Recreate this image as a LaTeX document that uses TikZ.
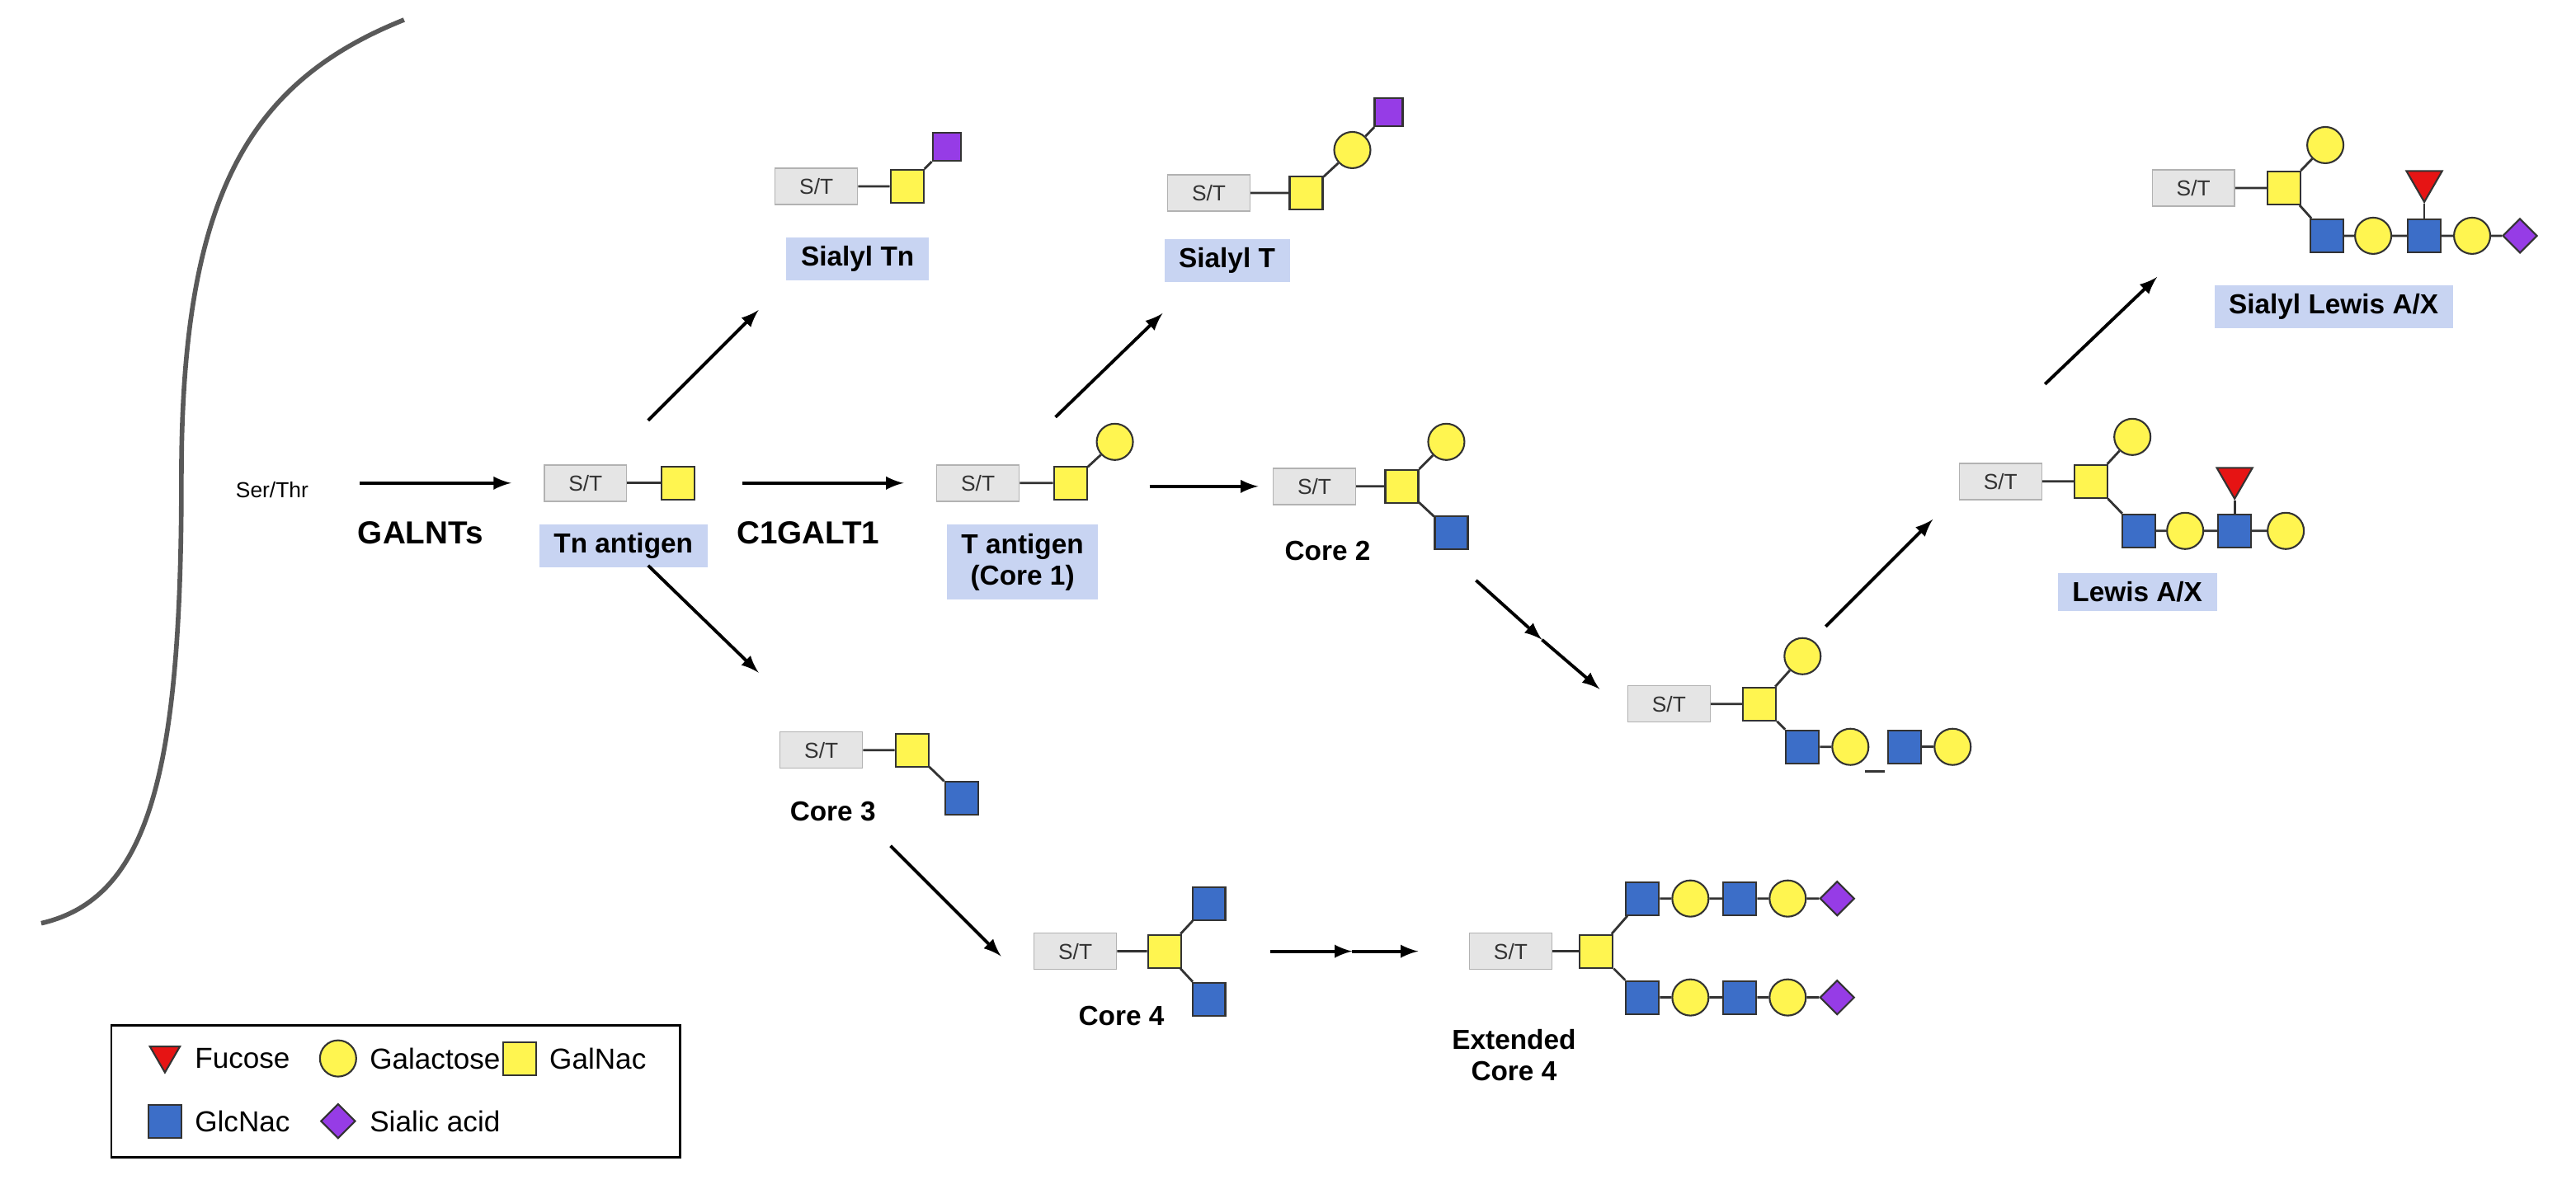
\documentclass[tikz,border=0pt]{standalone}
\usepackage{fontspec}
\setmainfont{Liberation Sans}
\usetikzlibrary{positioning}
\usetikzlibrary{shapes.geometric, arrows}

\definecolor{galnac}{RGB}{255,245,80}
\definecolor{glcnac}{RGB}{60,110,200}
\definecolor{sialic}{RGB}{150,60,230}
\definecolor{fucose}{RGB}{230,20,20}
\definecolor{hilite}{RGB}{200,212,242}

\begin{document}
\begin{tikzpicture}[x=0.02cm, y=-0.02cm, >=latex]
    \tikzstyle{st} = [rectangle, draw=gray!60, fill=gray!20, minimum width=1cm,
    minimum height=0.44cm, inner sep=0pt, font=\fontsize{7.5}{8}\selectfont, text=black!80]
    \tikzstyle{gal} = [circle, draw=black!80, fill=galnac, minimum size=0.44cm, inner sep=0pt, line width=0.6pt]
    \tikzstyle{gnac} = [rectangle, draw=black!80, fill=galnac, minimum size=0.4cm, inner sep=0pt, line width=0.6pt]
    \tikzstyle{glc} = [rectangle, draw=black!80, fill=glcnac, minimum size=0.4cm, inner sep=0pt, line width=0.6pt]
    \tikzstyle{sia} = [diamond, draw=black!80, fill=sialic, minimum size=0.42cm, inner sep=0pt, line width=0.6pt]
    \tikzstyle{siasq} = [rectangle, draw=black!80, fill=sialic, minimum size=0.34cm, inner sep=0pt, line width=0.6pt]
    \tikzstyle{fuc} = [regular polygon, regular polygon sides=3, shape border rotate=180, draw=black!80,
    fill=fucose, minimum size=0.5cm, inner sep=0pt, line width=0.6pt]
    \tikzstyle{link} = [draw, black!80, line width=0.8pt]
    \tikzstyle{line} = [draw, ->, line width=1.1pt]
    \tikzstyle{glylabel} = [fill=hilite, inner xsep=5pt, inner ysep=3pt, font=\bfseries\fontsize{9.5}{11}\selectfont, align=center]
    \tikzstyle{plain} = [font=\bfseries\fontsize{9.5}{11}\selectfont, align=center]
    \tikzstyle{enzyme} = [font=\bfseries\fontsize{11}{12}\selectfont]
    \useasboundingbox (0,0) rectangle (1562,724);
    % membrane
    \draw[gray!70!black, line width=1.6pt] (245,12) .. controls (150,50) and (110,120) .. (110,290)
    .. controls (110,470) and (90,545) .. (25,560);
    \node[font=\fontsize{7.5}{8}\selectfont] (serthr) at (165,297) {Ser/Thr};
    \coordinate (sa) at (218,293);
    \node[enzyme] (galnts) at (255,323) {GALNTs};
    % Tn antigen
    \node[st] (tnst) at (355,293) {S/T};
    \node[gnac] (tn1) at (411,293) {};
    \node[glylabel] (tnlab) at (378,331) {Tn antigen};
    \node[enzyme] (c1galt) at (490,323) {C1GALT1};
    % Sialyl Tn
    \node[st] (stnst) at (495,113) {S/T};
    \node[gnac] (stn1) at (550,113) {};
    \node[siasq] (stn2) at (574,89) {};
    \node[glylabel] (stnlab) at (520,157) {Sialyl Tn};
    % Core 3
    \node[st] (c3st) at (498,455) {S/T};
    \node[gnac] (c31) at (553,455) {};
    \node[glc] (c32) at (583,484) {};
    \node[plain] (c3lab) at (505,492) {Core 3};
    % T antigen
    \node[st] (tst) at (593,293) {S/T};
    \node[gnac] (t1) at (649,293) {};
    \node[gal] (t2) at (676,268) {};
    \node[glylabel] (tlab) at (620,341) {T antigen\\(Core 1)};
    % Sialyl T
    \node[st] (sst) at (733,117) {S/T};
    \node[gnac] (s1) at (792,117) {};
    \node[gal] (s2) at (820,91) {};
    \node[siasq] (s3) at (842,68) {};
    \node[glylabel] (slab) at (744,158) {Sialyl T};
    % Core 2
    \node[st] (c2st) at (797,295) {S/T};
    \node[gnac] (c21) at (850,295) {};
    \node[gal] (c22) at (877,268) {};
    \node[glc] (c23) at (880,323) {};
    \node[plain] (c2lab) at (805,334) {Core 2};
    % extended core 2
    \node[st] (e2st) at (1012,427) {S/T};
    \node[gnac] (e21) at (1067,427) {};
    \node[gal] (e22) at (1093,398) {};
    \node[glc] (e23) at (1093,453) {};
    \node[gal] (e24) at (1122,453) {};
    \node[glc] (e25) at (1155,453) {};
    \node[gal] (e26) at (1184,453) {};
    \node[inner sep=0pt, minimum width=0.24cm, minimum height=0.7pt, fill=black!80] (e2gap) at (1137,468) {};
    % Lewis A/X
    \node[st] (lst) at (1213,292) {S/T};
    \node[gnac] (l1) at (1268,292) {};
    \node[gal] (l2) at (1293,265) {};
    \node[glc] (l3) at (1297,322) {};
    \node[gal] (l4) at (1325,322) {};
    \node[glc] (l5) at (1355,322) {};
    \node[fuc] (l6) at (1355,290) {};
    \node[gal] (l7) at (1386,322) {};
    \node[glylabel] (llab) at (1296,359) {Lewis A/X};
    % Sialyl Lewis A/X
    \node[st] (slst) at (1330,114) {S/T};
    \node[gnac] (sl1) at (1385,114) {};
    \node[gal] (sl2) at (1410,88) {};
    \node[glc] (sl3) at (1411,143) {};
    \node[gal] (sl4) at (1439,143) {};
    \node[glc] (sl5) at (1470,143) {};
    \node[fuc] (sl6) at (1470,110) {};
    \node[gal] (sl7) at (1499,143) {};
    \node[sia] (sl8) at (1528,143) {};
    \node[glylabel] (sllab) at (1415,186) {Sialyl Lewis A/X};
    % Core 4
    \node[st] (c4st) at (652,577) {S/T};
    \node[gnac] (c41) at (706,577) {};
    \node[glc] (c42) at (733,548) {};
    \node[glc] (c43) at (733,606) {};
    \node[plain] (c4lab) at (680,616) {Core 4};
    % extended core 4
    \node[st] (e4st) at (916,577) {S/T};
    \node[gnac] (e41) at (968,577) {};
    \path[link] (e4st) -- (e41);
    \foreach \r/\y in {a/545, b/605} {
        \node[glc] (e4\r1) at (996,\y) {};
        \node[gal] (e4\r2) at (1025,\y) {};
        \node[glc] (e4\r3) at (1055,\y) {};
        \node[gal] (e4\r4) at (1084,\y) {};
        \node[sia] (e4\r5) at (1114,\y) {};
        \path[link] (e41) -- (e4\r1) -- (e4\r2) -- (e4\r3) -- (e4\r4) -- (e4\r5);
    }
    \node[plain] (e4lab) at (918,640) {Extended\\Core 4};
    % glycan bonds
    \path[link] (tnst) -- (tn1);
    \path[link] (stnst) -- (stn1) -- (stn2);
    \path[link] (c3st) -- (c31) -- (c32);
    \path[link] (tst) -- (t1) -- (t2);
    \path[link] (sst) -- (s1) -- (s2) -- (s3);
    \path[link] (c2st) -- (c21) -- (c22);
    \path[link] (c21) -- (c23);
    \path[link] (e2st) -- (e21) -- (e22);
    \path[link] (e21) -- (e23) -- (e24);
    \path[link] (e25) -- (e26);
    \path[link] (lst) -- (l1) -- (l2);
    \path[link] (l1) -- (l3) -- (l4) -- (l5) -- (l7);
    \path[link] (l5) -- (l6);
    \path[link] (slst) -- (sl1) -- (sl2);
    \path[link] (sl1) -- (sl3) -- (sl4) -- (sl5) -- (sl7) -- (sl8);
    \path[link] (sl5) -- (sl6);
    \path[link] (c4st) -- (c41) -- (c42);
    \path[link] (c41) -- (c43);
    % pathway arrows
    \coordinate (a1) at (310,293);
    \path[line] (sa) -- (a1);
    \coordinate (b0) at (450,293); \coordinate (b1) at (548,293);
    \path[line] (b0) -- (b1);
    \coordinate (c0) at (393,255); \coordinate (c1) at (460,188);
    \path[line] (c0) -- (c1);
    \coordinate (d0) at (393,343); \coordinate (d1) at (460,408);
    \path[line] (d0) -- (d1);
    \coordinate (f0) at (640,253); \coordinate (f1) at (705,190);
    \path[line] (f0) -- (f1);
    \coordinate (g0) at (697,295); \coordinate (g1) at (763,295);
    \path[line] (g0) -- (g1);
    \coordinate (h0) at (895,352); \coordinate (hm) at (935,388); \coordinate (h1) at (970,418);
    \path[line] (h0) -- (hm); \path[line] (hm) -- (h1);
    \coordinate (i0) at (1107,380); \coordinate (i1) at (1172,315);
    \path[line] (i0) -- (i1);
    \coordinate (j0) at (1240,233); \coordinate (j1) at (1308,168);
    \path[line] (j0) -- (j1);
    \coordinate (k0) at (540,513); \coordinate (k1) at (607,580);
    \path[line] (k0) -- (k1);
    \coordinate (m0) at (770,577); \coordinate (mm) at (820,577); \coordinate (m1) at (860,577);
    \path[line] (m0) -- (mm); \path[line] (mm) -- (m1);
    % legend
    \node[draw, line width=0.8pt, minimum width=6.9cm, minimum height=1.6cm] (legend) at (240,662) {};
    \tikzstyle{leg} = [right, font=\fontsize{10}{11}\selectfont]
    \node[fuc, minimum size=0.42cm] (lfuc) at (100,640) {};
    \node[leg] at (112,642) {Fucose};
    \node[gal] (lgal) at (205,642) {};
    \node[leg] at (218,642) {Galactose};
    \node[gnac] (lgnac) at (315,642) {};
    \node[leg] at (327,642) {GalNac};
    \node[glc] (lglc) at (100,680) {};
    \node[leg] at (112,680) {GlcNac};
    \node[sia] (lsia) at (205,680) {};
    \node[leg] at (218,680) {Sialic acid};
\end{tikzpicture}
\end{document}
